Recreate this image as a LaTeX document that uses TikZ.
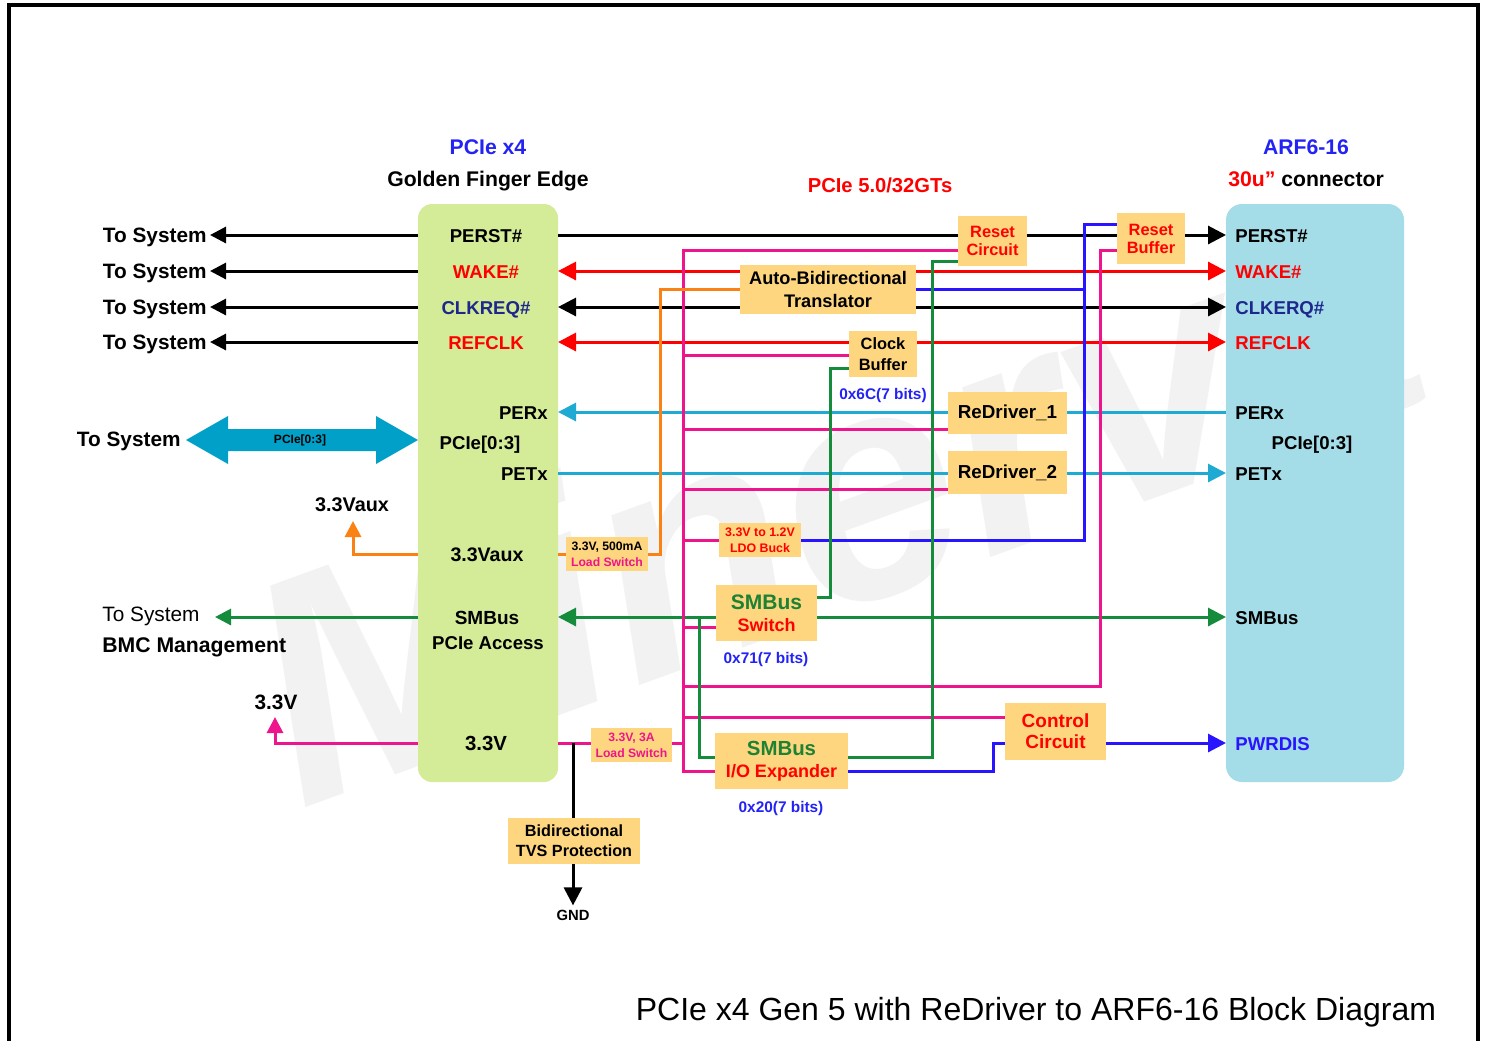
\documentclass[tikz,border=0pt]{standalone}
\usepackage{fontspec}
\setmainfont{Liberation Sans}
\usetikzlibrary{arrows.meta,calc}
\definecolor{gfill}{RGB}{212,235,152}
\definecolor{bfill}{RGB}{164,220,232}
\definecolor{boxf}{RGB}{254,214,128}
\definecolor{mred}{RGB}{255,0,0}
\definecolor{mblue}{RGB}{40,20,255}
\definecolor{tblue}{RGB}{35,35,245}
\definecolor{navy}{RGB}{30,40,140}
\definecolor{mgreen}{RGB}{20,140,60}
\definecolor{tgreen}{RGB}{30,130,50}
\definecolor{mmag}{RGB}{238,20,140}
\definecolor{morange}{RGB}{250,130,20}
\definecolor{mcyan}{RGB}{30,170,210}
\definecolor{bigcyan}{RGB}{0,160,200}
\newcommand{\myfs}[2]{\fontsize{#1}{#2}\selectfont}
\begin{document}
\begin{tikzpicture}[x=0.5pt,y=-0.5pt,
  ln/.style={line width=1.5pt},
  bk/.style={ln,draw=black},
  rd/.style={ln,draw=mred},
  bl/.style={ln,draw=mblue},
  gr/.style={ln,draw=mgreen},
  mg/.style={ln,draw=mmag},
  og/.style={ln,draw=morange},
  cy/.style={ln,draw=mcyan},
  tip/.style={-{Triangle[length=9pt,width=9pt]}},
  tipl/.style={{Triangle[length=9pt,width=9pt]}-},
  tipb/.style={{Triangle[length=9pt,width=9pt]}-{Triangle[length=9pt,width=9pt]}},
  tips/.style={-{Triangle[length=8pt,width=8pt]}},
  blk/.style={fill=boxf, inner sep=0pt, align=center},
  lbl/.style={inner sep=0pt, text height=0.72em, text depth=0pt},
  sig/.style={lbl, font=\bfseries\myfs{9.3}{11}},
  ttl/.style={lbl, font=\bfseries\myfs{10.6}{12}},
  addr/.style={lbl, text=tblue, font=\bfseries\myfs{7.7}{9}}
]
\useasboundingbox (0,0) rectangle (1486,1040);
\fill[white] (0,0) rectangle (1486,1040);
% watermark
\node[rotate=20, text=black!5, inner sep=0pt, font=\bfseries\itshape\myfs{160}{160}] (wm) at (830,495) {Minerva};
% frame
\draw[line width=2pt] (9,1042) -- (9,5) -- (1478,5) -- (1478,1042);

% titles
\node[ttl, text=tblue] (t1) at (488,147) {PCIe x4};
\node[ttl] (t2) at (488,179) {Golden Finger Edge};
\node[ttl, text=mred, font=\bfseries\myfs{10.1}{12}] (t3) at (880,185) {PCIe 5.0/32GTs};
\node[ttl, text=tblue] (t4) at (1306,147) {ARF6-16};
\node[ttl] (t5) at (1306,179) {{\color{mred}30u”} connector};

% main blocks
\node[fill=gfill, rounded corners=7pt, minimum width=70pt, minimum height=289pt, inner sep=0pt] (gf) at (488,493) {};
\node[fill=bfill, rounded corners=8pt, minimum width=89pt, minimum height=289pt, inner sep=0pt] (cn) at (1315,493) {};

% pins
\coordinate (gL1) at (418,235); \coordinate (gL2) at (418,271);
\coordinate (gL3) at (418,307); \coordinate (gL4) at (418,342);
\coordinate (gLaux) at (418,554); \coordinate (gLsm) at (418,617);
\coordinate (gL33) at (418,743);
\coordinate (gR1) at (558,235); \coordinate (gR2) at (558,271);
\coordinate (gR3) at (558,307); \coordinate (gR4) at (558,342);
\coordinate (gRrx) at (558,412); \coordinate (gRtx) at (558,473);
\coordinate (gRaux) at (558,554); \coordinate (gRsm) at (558,617);
\coordinate (gR33) at (558,743);
\coordinate (c1) at (1226,235); \coordinate (c2) at (1226,271);
\coordinate (c3) at (1226,307); \coordinate (c4) at (1226,342);
\coordinate (crx) at (1226,412); \coordinate (ctx) at (1226,473);
\coordinate (csm) at (1226,617); \coordinate (cpw) at (1226,743);
\coordinate (vauxtip) at (353,521); \coordinate (v33tip) at (275,717);

% left labels
\node[lbl, anchor=east, font=\bfseries\myfs{10.4}{12}] (ts1) at (207,235) {To System};
\node[lbl, anchor=east, font=\bfseries\myfs{10.4}{12}] (ts2) at (207,271) {To System};
\node[lbl, anchor=east, font=\bfseries\myfs{10.4}{12}] (ts3) at (207,307) {To System};
\node[lbl, anchor=east, font=\bfseries\myfs{10.4}{12}] (ts4) at (207,342) {To System};
\node[lbl, anchor=east, font=\bfseries\myfs{10.4}{12}] (ts5) at (181,439) {To System};
\node[lbl, font=\bfseries\myfs{9.9}{12}] (v33a) at (352,504) {3.3Vaux};
\node[lbl, anchor=west, font=\myfs{10.4}{12}] (ts6) at (102,614) {To System};
\node[lbl, anchor=west, font=\bfseries\myfs{10.6}{12}] (bmc) at (102,645) {BMC Management};
\node[lbl, font=\bfseries\myfs{10.4}{12}] (v33) at (276,702) {3.3V};

\draw[bk, tips] (gL1) -- ($(ts1.east)+(3,0)$);
\draw[bk, tips] (gL2) -- ($(ts2.east)+(3,0)$);
\draw[bk, tips] (gL3) -- ($(ts3.east)+(3,0)$);
\draw[bk, tips] (gL4) -- ($(ts4.east)+(3,0)$);
\fill[bigcyan] (186,440) -- (228,416) -- (228,429) -- (376,429) -- (376,416) -- (418,440)
  -- (376,464) -- (376,451) -- (228,451) -- (228,464) -- cycle;
\node[inner sep=0pt, font=\bfseries\myfs{6}{7}] (pcl) at (300,440) {PCIe[0:3]};
\draw[og, tips] (gLaux) -- (353,554) -- (vauxtip);
\draw[gr, tips] (gLsm) -- (215,617);
\draw[mg, tips] (gL33) -- (275,743) -- (v33tip);

% middle wires (behind boxes)
\draw[bk, tip] (gR1) -- (c1);
\draw[rd, tipb] (gR2) -- (c2);
\draw[bk, tipb] (gR3) -- (c3);
\draw[rd, tipb] (gR4) -- (c4);
\draw[cy, tipl] (gRrx) -- (crx);
\draw[cy, tip] (gRtx) -- (ctx);
\draw[gr, tipb] (gRsm) -- (csm);

% boxes
\node[blk, minimum width=34.5pt, minimum height=25pt, text=mred, font=\bfseries\myfs{8.2}{8.6}] (ResetC) at (992.5,241) {Reset\\Circuit};
\node[blk, minimum width=34pt, minimum height=25.5pt, text=mred, font=\bfseries\myfs{8.2}{9}] (ResetB) at (1151,238.5) {Reset\\Buffer};
\node[blk, minimum width=88pt, minimum height=24.5pt, font=\bfseries\myfs{9.1}{11.5}] (Trans) at (828,289.5) {Auto-Bidirectional\\Translator};
\node[blk, minimum width=34pt, minimum height=23pt, font=\bfseries\myfs{8.2}{10.5}] (ClkBuf) at (883,354) {Clock\\Buffer};
\node[blk, minimum width=59.5pt, minimum height=21pt, font=\bfseries\myfs{9.4}{11}] (RD1) at (1007.5,413) {ReDriver\_1};
\node[blk, minimum width=59.5pt, minimum height=21.5pt, font=\bfseries\myfs{9.4}{11}] (RD2) at (1007.5,472.5) {ReDriver\_2};
\node[blk, minimum width=41pt, minimum height=17pt, font=\bfseries\myfs{6.1}{8}] (LS1) at (607,554) {3.3V, 500mA\\{\color{mmag}Load Switch}};
\node[blk, minimum width=41pt, minimum height=17pt, text=mred, font=\bfseries\myfs{6.2}{8}] (LDO) at (760,540) {3.3V to 1.2V\\LDO Buck};
\node[blk, minimum width=50.5pt, minimum height=28pt, font=\bfseries\myfs{10.5}{11}] (SMSw) at (766.5,613) {{\color{tgreen}SMBus}\\{\color{mred}\myfs{9}{11}Switch}};
\node[blk, minimum width=50.5pt, minimum height=28.5pt, text=mred, font=\bfseries\myfs{9.5}{10.5}] (CtrlC) at (1055.5,731.5) {Control\\Circuit};
\node[blk, minimum width=66.5pt, minimum height=28pt, font=\bfseries\myfs{10.2}{11}] (IOX) at (781.5,761) {{\color{tgreen}SMBus}\\{\color{mred}\myfs{9}{11}I/O Expander}};
\node[blk, minimum width=40.5pt, minimum height=17pt, text=mmag, font=\bfseries\myfs{6.1}{8}] (LS2) at (631.5,745) {3.3V, 3A\\Load Switch};
\node[blk, minimum width=66pt, minimum height=23pt, font=\bfseries\myfs{8.1}{10}] (TVS) at (574,841) {Bidirectional\\TVS Protection};
\node[lbl, font=\bfseries\myfs{7.4}{9}] (GND) at (573,913) {GND};

\node[addr] (a1) at (883,392) {0x6C(7 bits)};
\node[addr] (a2) at (766,656) {0x71(7 bits)};
\node[addr] (a3) at (781,805) {0x20(7 bits)};

% magenta 3.3V network
\draw[mg] (gR33) -- (LS2.west |- gR33);
\draw[mg] (LS2.east |- gR33) -- (683,743);
\draw[mg] ($(ResetC.west)+(0,9)$) -- (683,250) -- (683,771) -- ($(IOX.west)+(0,10)$);
\draw[mg] ($(ResetB.west)+(0,11.5)$) -- (1100,250) -- (1100,686) -- (683,686);
\draw[mg] ($(ClkBuf.west)+(0,1)$) -- (683,355);
\draw[mg] ($(RD1.west)+(0,16)$) -- (683,429);
\draw[mg] ($(RD2.west)+(0,16.5)$) -- (683,489);
\draw[mg] (LDO.west) -- (683,540);
\draw[mg] ($(SMSw.west)+(0,14)$) -- (683,627);
\draw[mg] ($(CtrlC.west)+(0,-14.5)$) -- (683,717);

% orange
\draw[og] (gRaux) -- (LS1.west);
\draw[og] (LS1.east) -- (660,554) -- (660,289.5) -- (Trans.west);

% blue
\draw[bl] (LDO.east) -- (1084,540) -- (1084,224) -- ($(ResetB.west)+(0,-14.5)$);
\draw[bl] (Trans.east) -- (1084,289.5);
\draw[bl] ($(IOX.east)+(0,10)$) -- (993,771) -- (993,743) -- ($(CtrlC.west)+(0,11.5)$);
\draw[bl, tip] ($(CtrlC.east)+(0,11.5)$) -- (cpw);

% green
\draw[gr] ($(ResetC.west)+(0,20)$) -- (932,261) -- (932,757) -- ($(IOX.east)+(0,-4)$);
\draw[gr] ($(ClkBuf.west)+(0,14)$) -- (830,368) -- (830,597) -- ($(SMSw.east)+(0,-16)$);
\draw[gr] (699,617) -- (699,757) -- ($(IOX.west)+(0,-4)$);

% black TVS
\draw[bk] (573,743) -- (TVS.north -| 573,0);
\draw[bk, tip] (TVS.south -| 573,0) -- (GND.north);

% golden finger texts
\node[sig] (p1) at (486,235) {PERST\#};
\node[sig, text=mred] (p2) at (486,271) {WAKE\#};
\node[sig, text=navy] (p3) at (486,307) {CLKREQ\#};
\node[sig, text=mred] (p4) at (486,342) {REFCLK};
\node[sig, anchor=east] (p5) at (548,412) {PERx};
\node[sig] (p6) at (480,442) {PCIe[0:3]};
\node[sig, anchor=east] (p7) at (548,473) {PETx};
\node[sig, font=\bfseries\myfs{9.8}{11}] (p8) at (487,554) {3.3Vaux};
\node[sig, font=\bfseries\myfs{9.5}{11}] (p9) at (487,617) {SMBus};
\node[sig] (p10) at (488,642) {PCIe Access};
\node[sig, font=\bfseries\myfs{10.2}{11}] (p11) at (486,743) {3.3V};

% connector texts
\node[sig, anchor=west] (q1) at (1235,235) {PERST\#};
\node[sig, anchor=west, text=mred] (q2) at (1235,271) {WAKE\#};
\node[sig, anchor=west, text=navy] (q3) at (1235,307) {CLKERQ\#};
\node[sig, anchor=west, text=mred] (q4) at (1235,342) {REFCLK};
\node[sig, anchor=west] (q5) at (1235,412) {PERx};
\node[sig] (q6) at (1312,442) {PCIe[0:3]};
\node[sig, anchor=west] (q7) at (1235,473) {PETx};
\node[sig, anchor=west] (q8) at (1235,617) {SMBus};
\node[sig, anchor=west, text=mblue] (q9) at (1235,743) {PWRDIS};

% bottom title
\node[lbl, font=\myfs{16}{18}] (title) at (1036,1013) {PCIe x4 Gen 5 with ReDriver to ARF6-16 Block Diagram};
\end{tikzpicture}
\end{document}
